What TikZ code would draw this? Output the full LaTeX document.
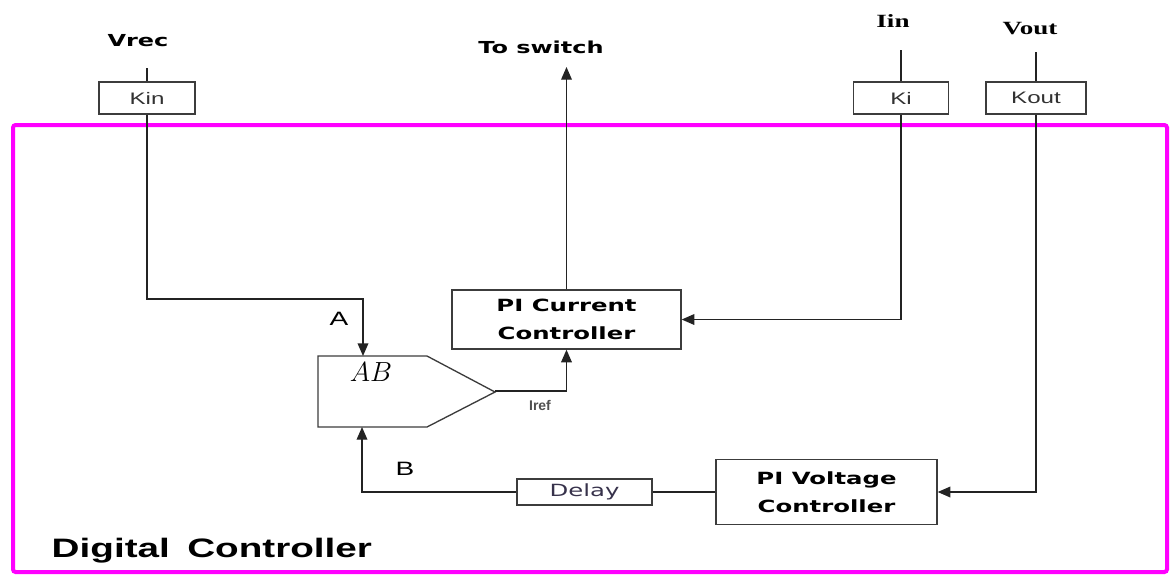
\documentclass[tikz,border=0pt]{standalone}
\usepackage{fontspec}
\usetikzlibrary{arrows.meta}
\newfontfamily\dvx[FakeStretch=1.45]{DejaVu Sans}
\newfontfamily\arx[FakeStretch=1.45]{Liberation Sans}
\newfontfamily\arn{Liberation Sans}
\newfontfamily\tmx[FakeStretch=1.45]{Liberation Serif}
\definecolor{frame}{RGB}{255,0,255}
\definecolor{ln}{RGB}{35,35,35}
\definecolor{bx}{RGB}{60,60,60}
\tikzset{
  wire/.style={draw=ln, line width=1pt},
  arr/.style={wire, -{Triangle[length=9.5pt,width=8pt]}},
  gainbox/.style={draw=bx, line width=1pt, minimum height=24pt, inner sep=0pt,
     font=\arx\fontsize{12.5}{14}\selectfont, text={rgb,255:red,50;green,50;blue,50}},
  ctrlbox/.style={draw=bx, line width=1pt, inner sep=0pt, align=center,
     font=\dvx\bfseries\fontsize{12.6}{21}\selectfont},
  siglbl/.style={font=\dvx\bfseries\fontsize{12.4}{14}\selectfont},
  serlbl/.style={font=\tmx\bfseries\fontsize{14}{16}\selectfont},
  portlbl/.style={font=\arx\fontsize{14.5}{16}\selectfont},
}
\begin{document}
\begin{tikzpicture}[x=0.75pt,y=-0.75pt]
\useasboundingbox (0,0) rectangle (1171,576);
% frame
\draw[frame, line width=3pt, rounded corners=2pt] (13,125) rectangle (1167,572);
% top labels
\node[siglbl] (vrec) at (138,41) {Vrec};
\node[siglbl] (tosw) at (541,47) {To switch};
\node[serlbl] (iin) at (893,21) {Iin};
\node[serlbl] (vout) at (1030,29) {Vout};
\coordinate (vrecT) at (147,68);
\coordinate (iinT) at (901,50);
\coordinate (voutT) at (1036,52);
\coordinate (swT) at (566.5,67);
% gain boxes
\node[gainbox, minimum width=72pt] (kin) at (147,98) {Kin};
\node[gainbox, minimum width=71.25pt] (ki) at (901,98) {Ki};
\node[gainbox, minimum width=75pt] (kout) at (1036,98) {Kout};
% controllers
\node[ctrlbox, minimum width=171.75pt, minimum height=44.25pt] (picur) at (566.5,319.5) {PI Current\\Controller};
\node[ctrlbox, minimum width=165.75pt, minimum height=48.75pt] (pivolt) at (826.5,492) {PI Voltage\\Controller};
\node[draw=bx, line width=1pt, minimum width=101.25pt, minimum height=19.5pt, inner sep=0pt,
      font=\dvx\fontsize{12.6}{14}\selectfont, text={rgb,255:red,55;green,50;blue,75}] (delay) at (584.5,492) {Delay};
% AB block
\draw[draw=bx, line width=1pt] (318,356) -- (427,356) -- (495,392) -- (427,427) -- (318,427) -- cycle;
\node[font=\fontsize{20.5}{22}\selectfont] (ablbl) at (371,372) {$AB$};
\coordinate (abA) at (363,356);
\coordinate (abB) at (362,427);
\coordinate (abOut) at (495,391);
% wires
\draw[wire] (vrecT) -- (kin.north);
\draw[wire] (iinT) -- (ki.north);
\draw[wire] (voutT) -- (kout.north);
\draw[arr] (kin.south) -- (147,299) -| (abA);
\draw[arr] (ki.south) |- (picur.east);
\draw[arr] (kout.south) |- (pivolt.east);
\draw[arr] (picur.north) -- (swT);
\draw[arr] (abOut) -| (picur.south);
\draw[wire] (pivolt.west) -- (delay.east);
\draw[arr] (delay.west) -| (abB);
% labels
\node[portlbl] (lA) at (339,319) {A};
\node[portlbl] (lB) at (405,469) {B};
\node[font=\arn\bfseries\fontsize{10.5}{12}\selectfont, text={rgb,255:red,80;green,80;blue,80}] (iref) at (540,405) {Iref};
\node[anchor=base west, font=\arx\bfseries\fontsize{20}{24}\selectfont] (dc) at (47,557) {Digital\hspace{5pt} Controller};
\end{tikzpicture}
\end{document}
